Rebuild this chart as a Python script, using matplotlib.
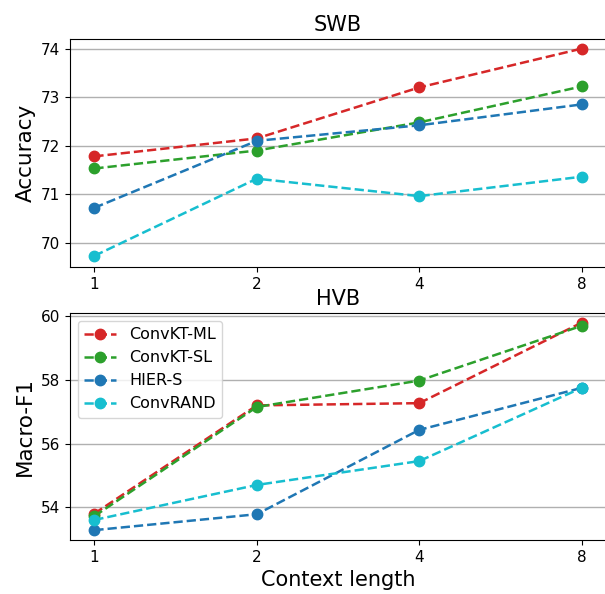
import matplotlib
matplotlib.use("Agg")
import matplotlib.pyplot as plt

contextLength = ["1", "2", "4", "8"]
models = ["ConvKT-ML", "ConvKT-SL", "HIER-S", "ConvRAND"]
colors = ["tab:red", "tab:green", "tab:blue", "tab:cyan"]

swbData = [
    [71.78, 72.15, 73.20, 74.00],
    [71.53, 71.90, 72.48, 73.22],
    [70.72, 72.10, 72.42, 72.85],
    [69.73, 71.32, 70.96, 71.36],
]
hvbData = [
    [53.80, 57.20, 57.27, 59.80],
    [53.72, 57.15, 57.98, 59.70],
    [53.28, 53.78, 56.43, 57.75],
    [53.60, 54.70, 55.45, 57.75],
]

fig = plt.figure(figsize=(6.05, 5.94), dpi=100)
ax1 = fig.add_axes([0.1157, 0.5505, 0.886, 0.384])
ax2 = fig.add_axes([0.1157, 0.0909, 0.886, 0.382])

xs = range(len(contextLength))
for i, m in enumerate(models):
    ax1.plot(xs, swbData[i], "--o", color=colors[i], label=m, markersize=7.5, linewidth=1.8)
    ax2.plot(xs, hvbData[i], "--o", color=colors[i], label=m, markersize=7.5, linewidth=1.8)

for ax in (ax1, ax2):
    ax.set_xticks(list(xs))
    ax.set_xticklabels(contextLength)
    ax.tick_params(labelsize=11)
    ax.grid(axis="y", color="#b0b0b0", linewidth=1)
    ax.set_axisbelow(True)

ax1.set_ylim(69.5, 74.2)
ax1.set_yticks([70, 71, 72, 73, 74])
ax1.set_title("SWB", fontsize=15)
ax1.set_ylabel("Accuracy", fontsize=15.5)

ax2.set_ylim(52.97, 60.1)
ax2.set_yticks([54, 56, 58, 60])
ax2.set_title("HVB", fontsize=15)
ax2.set_ylabel("Macro-F1", fontsize=15.5)
ax2.set_xlabel("Context length", fontsize=15)
ax2.legend(loc="upper left", fontsize=11.5)

fig.savefig("out.png", dpi=100)
